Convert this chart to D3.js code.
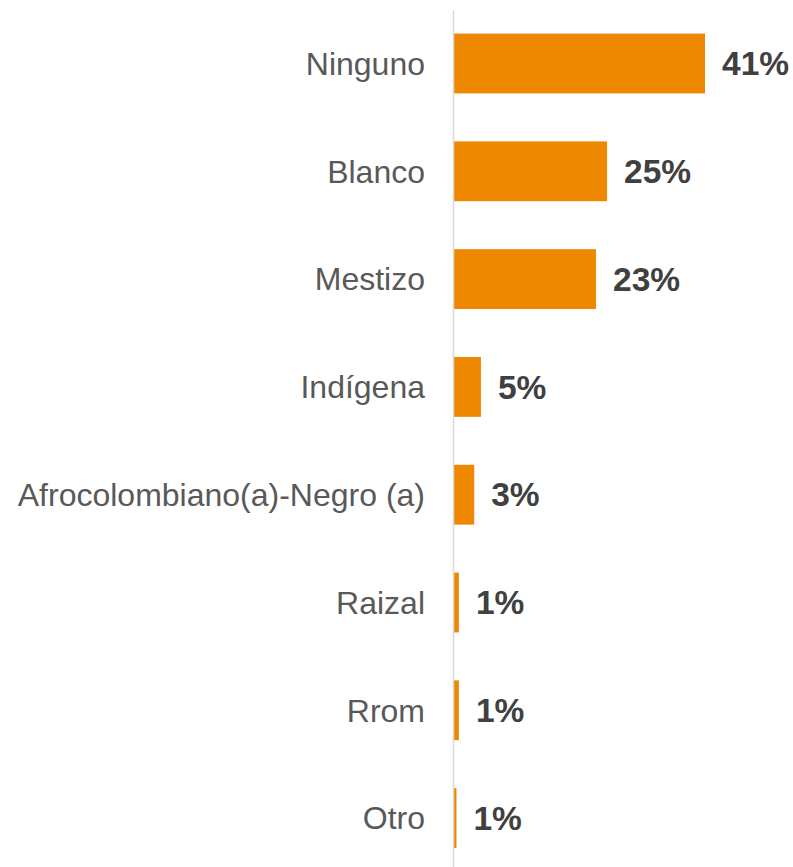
<!DOCTYPE html>
<html>
<head>
<meta charset="utf-8">
<script src="https://cdn.jsdelivr.net/npm/d3@7"></script>
<style>
  body { margin: 0; background: #fff; }
  svg { display: block; }
</style>
</head>
<body>
<svg id="chart"></svg>
<script>
var width = 793
var height = 867

// categories, top to bottom
var categories = ["Ninguno", "Blanco", "Mestizo", "Indígena", "Afrocolombiano(a)-Negro (a)", "Raizal", "Rrom", "Otro"]
// values (%)
var values = [41, 25, 23.2, 4.4, 3.3, 0.8, 0.8, 0.4]
// labels as printed
var valueLabels = ["41%", "25%", "23%", "5%", "3%", "1%", "1%", "1%"]

var data = categories.map(function(c, i) {
  return {name: c, value: values[i], label: valueLabels[i]}
})

var svg = d3.select("#chart")
    .attr("width", width)
    .attr("height", height)

var x0 = 454
var x = d3.scaleLinear()
    .domain([0, 41])
    .range([x0, 705])

var y = d3.scaleBand()
    .domain(categories)
    .range([9.6, 872])
    .paddingInner(0.445)
    .paddingOuter(0.2225)

// bars
svg.selectAll("rect.bar")
    .data(data)
  .enter().append("rect")
    .attr("class", "bar")
    .attr("x", x(0))
    .attr("y", function(d){ return y(d.name) })
    .attr("width", function(d){ return x(d.value) - x(0) })
    .attr("height", y.bandwidth())
    .style("fill", "#EE8800")

// vertical axis line
svg.append("line")
    .attr("x1", x0 - 0.5)
    .attr("x2", x0 - 0.5)
    .attr("y1", 10)
    .attr("y2", height)
    .style("stroke", "#d9d9d9")
    .style("stroke-width", 1.5)

// category labels
svg.selectAll("text.cat")
    .data(data)
  .enter().append("text")
    .attr("class", "cat")
    .attr("x", 425)
    .attr("y", function(d){ return y(d.name) + y.bandwidth() / 2 })
    .attr("dy", "0.35em")
    .attr("text-anchor", "end")
    .style("font-family", "'Liberation Sans', Arial, sans-serif")
    .style("font-size", "32px")
    .style("fill", "#595959")
    .text(function(d){ return d.name })

// value labels
svg.selectAll("text.val")
    .data(data)
  .enter().append("text")
    .attr("class", "val")
    .attr("x", function(d){ return x(d.value) + 17 })
    .attr("y", function(d){ return y(d.name) + y.bandwidth() / 2 })
    .attr("dy", "0.35em")
    .style("font-family", "'Liberation Sans', Arial, sans-serif")
    .style("font-size", "33.5px")
    .style("font-weight", "bold")
    .style("fill", "#404040")
    .text(function(d){ return d.label })
</script>
</body>
</html>
